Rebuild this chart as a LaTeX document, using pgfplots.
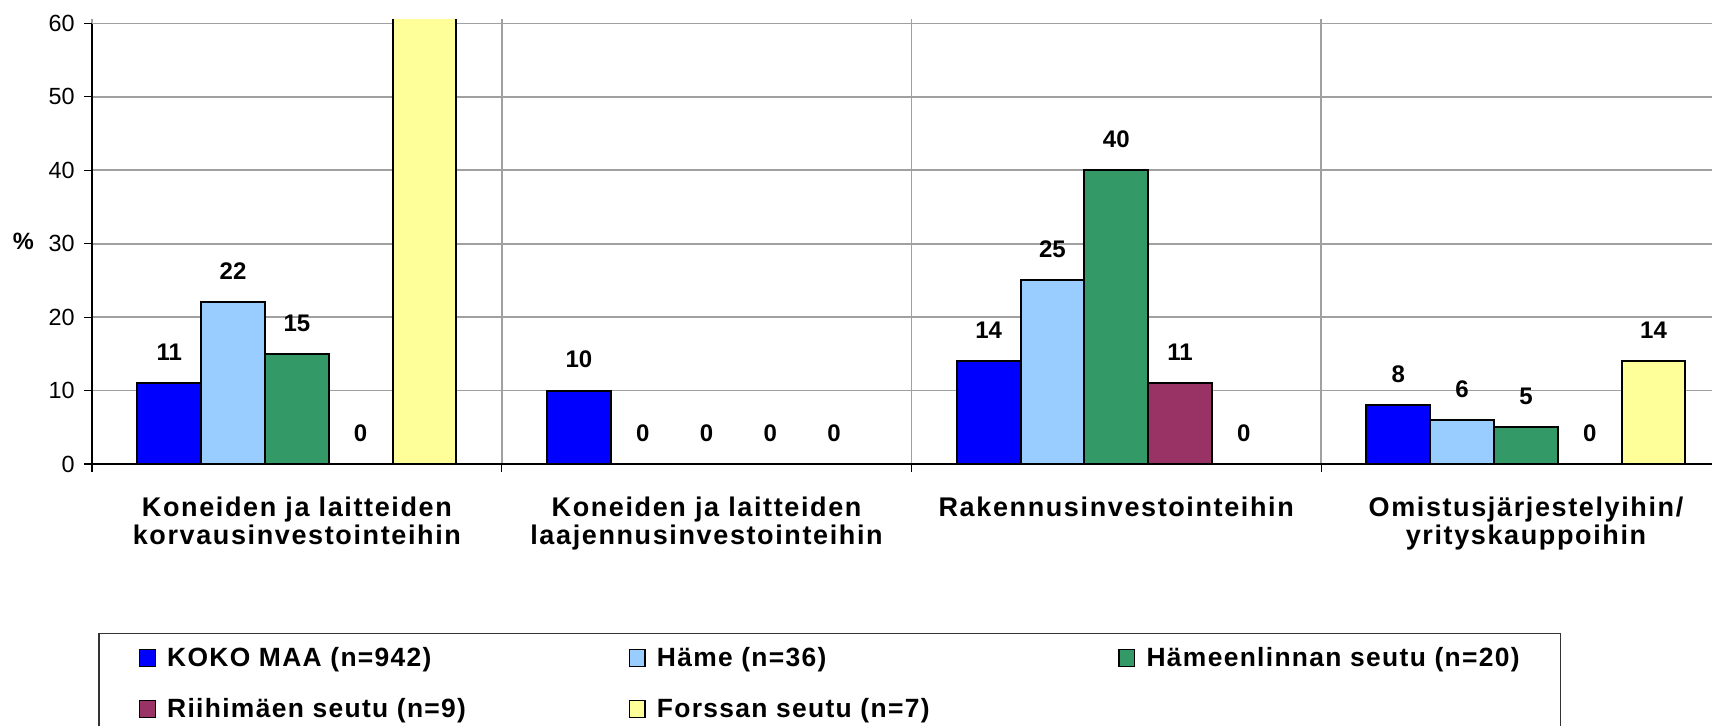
\documentclass[border=0pt]{standalone}
\usepackage{fontspec}
\setmainfont{Liberation Sans}
\usepackage{pgfplots}
\pgfplotsset{compat=1.18}
\definecolor{cKoko}{RGB}{0,0,255}
\definecolor{cHame}{RGB}{153,204,255}
\definecolor{cHml}{RGB}{51,153,102}
\definecolor{cRii}{RGB}{153,51,102}
\definecolor{cFor}{RGB}{255,255,153}
\definecolor{cGrid}{RGB}{160,160,160}
\newcommand\catfont{\fontsize{13.5}{13.8}\selectfont\bfseries\addfontfeatures{LetterSpace=6}}
\newcommand\legfont{\fontsize{13.2}{15}\selectfont\bfseries\addfontfeatures{LetterSpace=5}}
\newcommand\datafont{\fontsize{12}{13}\selectfont\bfseries}
\newcommand\tickfont{\fontsize{11.7}{13}\selectfont}
\begin{document}
\begin{tikzpicture}
\begin{axis}[
  scale only axis, width=819.4pt, height=222.5pt,
  xmin=-0.5, xmax=3.5, ymin=0, ymax=60.6,
  axis x line*=bottom, axis y line*=left,
  axis line style={-, line width=0.6pt, black},
  y axis line style={shorten >=2.35pt},
  ytick={0,10,...,60},
  ymajorgrids, xmajorgrids,
  major grid style={draw=cGrid, line width=0.8pt},
  tick align=outside, major tick length=4pt,
  tick style={black, line width=0.6pt},
  xtick={-0.5,0.5,1.5,2.5}, xticklabels={,,,},
  extra x ticks={0,1,2,3},
  extra x tick labels={{Koneiden ja laitteiden\\korvausinvestointeihin},{Koneiden ja laitteiden\\laajennusinvestointeihin},{Rakennusinvestointeihin},{Omistusjärjestelyihin/\\yrityskauppoihin}},
  extra x tick style={grid=none, major tick length=0pt,
     xticklabel style={font=\catfont, align=center, anchor=north, inner sep=0pt, yshift=-16.5pt}},
  yticklabel style={font=\tickfont, xshift=-1.2pt},
  /pgf/number format/assume math mode=true,
  ybar=0pt, bar width=31.9pt,
  nodes near coords,
  nodes near coords style={font=\datafont, anchor=south, inner sep=0pt, yshift=10.8pt},
  legend columns=3,
  legend style={at={(0,0)}, anchor=north west, xshift=3.15pt, yshift=-84.5pt,
     draw=black!80, line width=0.6pt, inner xsep=20pt, inner ysep=6.5pt,
     row sep=12.5pt, column sep=0pt, cells={anchor=west},
     nodes={inner sep=0pt, text height=10pt, text depth=3pt, font=\legfont}},
  legend image code/.code={\draw[#1, line width=0.7pt] (0pt,-3.5pt) rectangle (7.8pt,5pt); \path (13.3pt,0pt);},
]
\addplot[fill=cKoko, draw=black, line width=1pt] coordinates {(0,11) (1,10) (2,14) (3,8)};
\addlegendentry{\makebox[230.7pt][l]{KOKO MAA (n=942)}}
\addplot[fill=cHame, draw=black, line width=1pt] coordinates {(0,22) (1,0) (2,25) (3,6)};
\addlegendentry{\makebox[230.7pt][l]{Häme (n=36)}}
\addplot[fill=cHml, draw=black, line width=1pt] coordinates {(0,15) (1,0) (2,40) (3,5)};
\addlegendentry{\makebox[187pt][l]{Hämeenlinnan seutu (n=20)}}
\addplot[fill=cRii, draw=black, line width=1pt] coordinates {(0,0) (1,0) (2,11) (3,0)};
\addlegendentry{\makebox[230.7pt][l]{Riihimäen seutu (n=9)}}
\addplot[fill=cFor, draw=black, line width=1pt, point meta=explicit symbolic] coordinates {(0,71) [{}] (1,0) [0] (2,0) [0] (3,14) [14]};
\addlegendentry{\makebox[230.7pt][l]{Forssan seutu (n=7)}}
\end{axis}
\node[font=\fontsize{11.8}{13}\selectfont\bfseries, anchor=center] at ([xshift=-34.3pt, yshift=111.25pt]current axis.south west) {\%};
\pgfresetboundingbox
\path[use as bounding box] (-46pt,-130.5pt) rectangle (810pt,232pt);
\end{tikzpicture}
\end{document}
